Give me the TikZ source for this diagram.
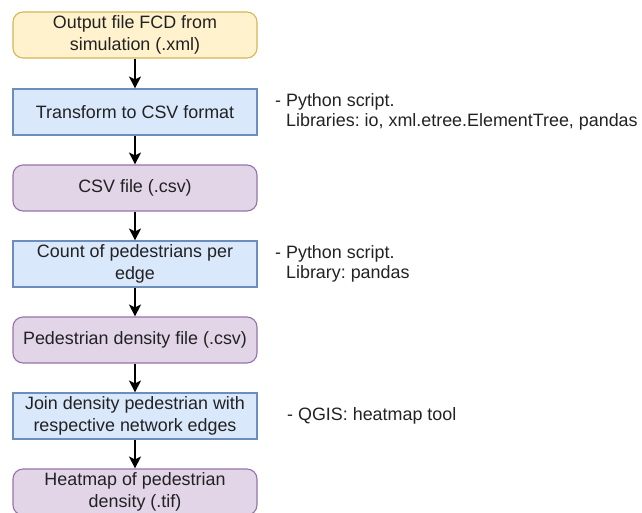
\documentclass[tikz,border=0pt]{standalone}
\usepackage{fontspec}
\setmainfont{Liberation Sans}
\usetikzlibrary{arrows.meta}
\definecolor{yfill}{HTML}{FFF2CC}\definecolor{ydraw}{HTML}{D6B656}
\definecolor{bfill}{HTML}{DAE8FC}\definecolor{bdraw}{HTML}{6C8EBF}
\definecolor{pfill}{HTML}{E1D5E7}\definecolor{pdraw}{HTML}{9673A6}
\definecolor{txt}{HTML}{222222}
\frenchspacing
\begin{document}
\begin{tikzpicture}[x=1pt,y=-1pt,
  base/.style={minimum width=244pt,minimum height=46pt,inner sep=0pt,align=center,
    text=txt,font=\fontsize{17.9}{21.5}\selectfont\frenchspacing,line width=1.1pt},
  startbox/.style={base,draw=ydraw,fill=yfill,rounded corners=10pt},
  procbox/.style={base,draw=bdraw,fill=bfill},
  filebox/.style={base,draw=pdraw,fill=pfill,rounded corners=10pt},
  note/.style={anchor=west,inner sep=0pt,align=left,text=txt,font=\fontsize{17.9}{20}\selectfont\frenchspacing},
  flow/.style={line width=1.3pt,-{Stealth[length=12pt,width=12pt,inset=3pt]}}]
\useasboundingbox (0,0) rectangle (642,512);
\node[startbox] (n1) at (135,35) {Output file FCD from\\simulation (.xml)};
\node[procbox] (n2) at (135,112) {Transform to CSV format};
\node[filebox] (n3) at (135,188) {CSV file (.csv)};
\node[procbox] (n4) at (135,264) {Count of pedestrians per\\edge};
\node[filebox] (n5) at (135,340) {Pedestrian density file (.csv)};
\node[procbox] (n6) at (135,416) {Join density pedestrian with\\respective network edges};
\node[filebox] (n7) at (135,492) {Heatmap of pedestrian\\density (.tif)};
\draw[flow] (n1) -- (n2);
\draw[flow] (n2) -- (n3);
\draw[flow] (n3) -- (n4);
\draw[flow] (n4) -- (n5);
\draw[flow] (n5) -- (n6);
\draw[flow] (n6) -- (n7);
\node[note] (t2) at (275,112) {- Python script.\\\phantom{- }Libraries: io, xml.etree.ElementTree, pandas};
\node[note] (t4) at (275,264) {- Python script.\\\phantom{- }Library: pandas};
\node[note] (t6) at (287,416) {- QGIS: heatmap tool};
\end{tikzpicture}
\end{document}
